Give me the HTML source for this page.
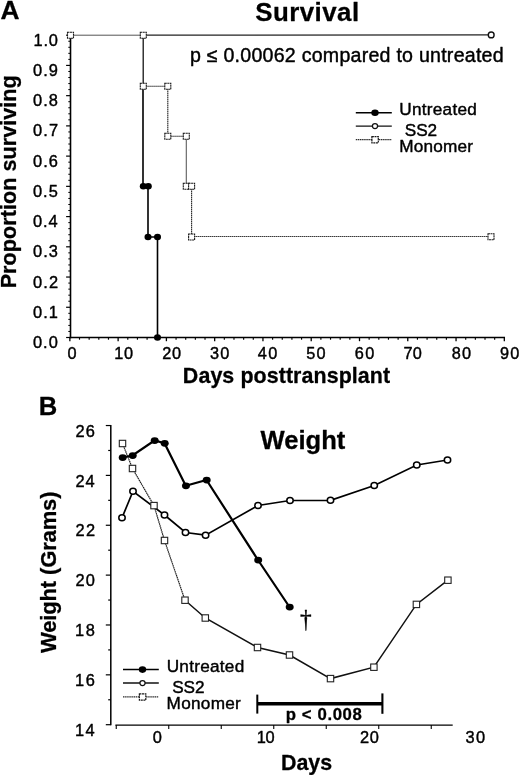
<!DOCTYPE html>
<html lang="en"><head><meta charset="utf-8"><title>Survival and Weight</title>
<style>
html,body{margin:0;padding:0;background:#fff;}
body{width:520px;height:775px;overflow:hidden;font-family:"Liberation Sans",Arial,Helvetica,sans-serif;}
svg{display:block;will-change:transform;}
svg text{fill:#000;font-family:"Liberation Sans",Arial,Helvetica,sans-serif;white-space:pre;stroke:#000;stroke-width:.42px;stroke-linejoin:round;}
svg text[font-weight=bold]{stroke-width:.28px;}
</style></head><body>
<svg width="520" height="775" viewBox="0 0 520 775">
<rect width="520" height="775" fill="#fff"/>
<g id="chartA">
<line x1="70.5" y1="35.2" x2="143.3" y2="35.2" stroke="#555" stroke-width="1"/>
<polyline points="143.3,35.2 143.3,86.3 167.8,86.3 167.8,136.2 186.3,136.2 186.3,186.3 191.6,186.3 191.6,237.0" fill="none" stroke="#262626" stroke-width="1.1" stroke-dasharray="1.5 0.5"/>
<line x1="191.6" y1="236.5" x2="491" y2="236.5" stroke="#3a3a3a" stroke-width="1" stroke-dasharray="1.6 0.4"/>
<line x1="143.3" y1="35.2" x2="491" y2="34.900000000000006" stroke="#222" stroke-width="1.2"/>
<line x1="143.2" y1="35.2" x2="143.2" y2="86.3" stroke="#222" stroke-width="1.1"/>
<polyline points="143.0,86.3 143.0,186.3 148,186.3 148,237.0 157.5,237.0 157.5,337.5" fill="none" stroke="#000" stroke-width="1.6"/>
<line x1="70.5" y1="34.7" x2="70.5" y2="338.3" stroke="#000" stroke-width="1.6"/>
<line x1="69.7" y1="337.5" x2="505.02" y2="337.5" stroke="#000" stroke-width="1.6"/>
<line x1="66.1" y1="337.50" x2="70.5" y2="337.50" stroke="#000" stroke-width="1.2"/>
<line x1="68.3" y1="331.45" x2="70.5" y2="331.45" stroke="#000" stroke-width="1"/>
<line x1="68.3" y1="325.41" x2="70.5" y2="325.41" stroke="#000" stroke-width="1"/>
<line x1="68.3" y1="319.36" x2="70.5" y2="319.36" stroke="#000" stroke-width="1"/>
<line x1="68.3" y1="313.32" x2="70.5" y2="313.32" stroke="#000" stroke-width="1"/>
<line x1="66.1" y1="307.27" x2="70.5" y2="307.27" stroke="#000" stroke-width="1.2"/>
<line x1="68.3" y1="301.22" x2="70.5" y2="301.22" stroke="#000" stroke-width="1"/>
<line x1="68.3" y1="295.18" x2="70.5" y2="295.18" stroke="#000" stroke-width="1"/>
<line x1="68.3" y1="289.13" x2="70.5" y2="289.13" stroke="#000" stroke-width="1"/>
<line x1="68.3" y1="283.09" x2="70.5" y2="283.09" stroke="#000" stroke-width="1"/>
<line x1="66.1" y1="277.04" x2="70.5" y2="277.04" stroke="#000" stroke-width="1.2"/>
<line x1="68.3" y1="270.99" x2="70.5" y2="270.99" stroke="#000" stroke-width="1"/>
<line x1="68.3" y1="264.95" x2="70.5" y2="264.95" stroke="#000" stroke-width="1"/>
<line x1="68.3" y1="258.90" x2="70.5" y2="258.90" stroke="#000" stroke-width="1"/>
<line x1="68.3" y1="252.86" x2="70.5" y2="252.86" stroke="#000" stroke-width="1"/>
<line x1="66.1" y1="246.81" x2="70.5" y2="246.81" stroke="#000" stroke-width="1.2"/>
<line x1="68.3" y1="240.76" x2="70.5" y2="240.76" stroke="#000" stroke-width="1"/>
<line x1="68.3" y1="234.72" x2="70.5" y2="234.72" stroke="#000" stroke-width="1"/>
<line x1="68.3" y1="228.67" x2="70.5" y2="228.67" stroke="#000" stroke-width="1"/>
<line x1="68.3" y1="222.63" x2="70.5" y2="222.63" stroke="#000" stroke-width="1"/>
<line x1="66.1" y1="216.58" x2="70.5" y2="216.58" stroke="#000" stroke-width="1.2"/>
<line x1="68.3" y1="210.53" x2="70.5" y2="210.53" stroke="#000" stroke-width="1"/>
<line x1="68.3" y1="204.49" x2="70.5" y2="204.49" stroke="#000" stroke-width="1"/>
<line x1="68.3" y1="198.44" x2="70.5" y2="198.44" stroke="#000" stroke-width="1"/>
<line x1="68.3" y1="192.40" x2="70.5" y2="192.40" stroke="#000" stroke-width="1"/>
<line x1="66.1" y1="186.35" x2="70.5" y2="186.35" stroke="#000" stroke-width="1.2"/>
<line x1="68.3" y1="180.30" x2="70.5" y2="180.30" stroke="#000" stroke-width="1"/>
<line x1="68.3" y1="174.26" x2="70.5" y2="174.26" stroke="#000" stroke-width="1"/>
<line x1="68.3" y1="168.21" x2="70.5" y2="168.21" stroke="#000" stroke-width="1"/>
<line x1="68.3" y1="162.17" x2="70.5" y2="162.17" stroke="#000" stroke-width="1"/>
<line x1="66.1" y1="156.12" x2="70.5" y2="156.12" stroke="#000" stroke-width="1.2"/>
<line x1="68.3" y1="150.07" x2="70.5" y2="150.07" stroke="#000" stroke-width="1"/>
<line x1="68.3" y1="144.03" x2="70.5" y2="144.03" stroke="#000" stroke-width="1"/>
<line x1="68.3" y1="137.98" x2="70.5" y2="137.98" stroke="#000" stroke-width="1"/>
<line x1="68.3" y1="131.94" x2="70.5" y2="131.94" stroke="#000" stroke-width="1"/>
<line x1="66.1" y1="125.89" x2="70.5" y2="125.89" stroke="#000" stroke-width="1.2"/>
<line x1="68.3" y1="119.84" x2="70.5" y2="119.84" stroke="#000" stroke-width="1"/>
<line x1="68.3" y1="113.80" x2="70.5" y2="113.80" stroke="#000" stroke-width="1"/>
<line x1="68.3" y1="107.75" x2="70.5" y2="107.75" stroke="#000" stroke-width="1"/>
<line x1="68.3" y1="101.71" x2="70.5" y2="101.71" stroke="#000" stroke-width="1"/>
<line x1="66.1" y1="95.66" x2="70.5" y2="95.66" stroke="#000" stroke-width="1.2"/>
<line x1="68.3" y1="89.61" x2="70.5" y2="89.61" stroke="#000" stroke-width="1"/>
<line x1="68.3" y1="83.57" x2="70.5" y2="83.57" stroke="#000" stroke-width="1"/>
<line x1="68.3" y1="77.52" x2="70.5" y2="77.52" stroke="#000" stroke-width="1"/>
<line x1="68.3" y1="71.48" x2="70.5" y2="71.48" stroke="#000" stroke-width="1"/>
<line x1="66.1" y1="65.43" x2="70.5" y2="65.43" stroke="#000" stroke-width="1.2"/>
<line x1="68.3" y1="59.38" x2="70.5" y2="59.38" stroke="#000" stroke-width="1"/>
<line x1="68.3" y1="53.34" x2="70.5" y2="53.34" stroke="#000" stroke-width="1"/>
<line x1="68.3" y1="47.29" x2="70.5" y2="47.29" stroke="#000" stroke-width="1"/>
<line x1="68.3" y1="41.25" x2="70.5" y2="41.25" stroke="#000" stroke-width="1"/>
<line x1="66.1" y1="35.20" x2="70.5" y2="35.20" stroke="#000" stroke-width="1.2"/>
<line x1="69.85" y1="337.5" x2="69.85" y2="341.2" stroke="#000" stroke-width="1.3"/>
<line x1="79.50" y1="337.5" x2="79.50" y2="339.7" stroke="#000" stroke-width="1.15"/>
<line x1="89.16" y1="337.5" x2="89.16" y2="339.7" stroke="#000" stroke-width="1.15"/>
<line x1="98.81" y1="337.5" x2="98.81" y2="339.7" stroke="#000" stroke-width="1.15"/>
<line x1="108.47" y1="337.5" x2="108.47" y2="339.7" stroke="#000" stroke-width="1.15"/>
<line x1="118.12" y1="337.5" x2="118.12" y2="341.2" stroke="#000" stroke-width="1.3"/>
<line x1="127.78" y1="337.5" x2="127.78" y2="339.7" stroke="#000" stroke-width="1.15"/>
<line x1="137.44" y1="337.5" x2="137.44" y2="339.7" stroke="#000" stroke-width="1.15"/>
<line x1="147.09" y1="337.5" x2="147.09" y2="339.7" stroke="#000" stroke-width="1.15"/>
<line x1="156.75" y1="337.5" x2="156.75" y2="339.7" stroke="#000" stroke-width="1.15"/>
<line x1="166.40" y1="337.5" x2="166.40" y2="341.2" stroke="#000" stroke-width="1.3"/>
<line x1="176.06" y1="337.5" x2="176.06" y2="339.7" stroke="#000" stroke-width="1.15"/>
<line x1="185.71" y1="337.5" x2="185.71" y2="339.7" stroke="#000" stroke-width="1.15"/>
<line x1="195.36" y1="337.5" x2="195.36" y2="339.7" stroke="#000" stroke-width="1.15"/>
<line x1="205.02" y1="337.5" x2="205.02" y2="339.7" stroke="#000" stroke-width="1.15"/>
<line x1="214.67" y1="337.5" x2="214.67" y2="341.2" stroke="#000" stroke-width="1.3"/>
<line x1="224.33" y1="337.5" x2="224.33" y2="339.7" stroke="#000" stroke-width="1.15"/>
<line x1="233.98" y1="337.5" x2="233.98" y2="339.7" stroke="#000" stroke-width="1.15"/>
<line x1="243.64" y1="337.5" x2="243.64" y2="339.7" stroke="#000" stroke-width="1.15"/>
<line x1="253.29" y1="337.5" x2="253.29" y2="339.7" stroke="#000" stroke-width="1.15"/>
<line x1="262.95" y1="337.5" x2="262.95" y2="341.2" stroke="#000" stroke-width="1.3"/>
<line x1="272.61" y1="337.5" x2="272.61" y2="339.7" stroke="#000" stroke-width="1.15"/>
<line x1="282.26" y1="337.5" x2="282.26" y2="339.7" stroke="#000" stroke-width="1.15"/>
<line x1="291.91" y1="337.5" x2="291.91" y2="339.7" stroke="#000" stroke-width="1.15"/>
<line x1="301.57" y1="337.5" x2="301.57" y2="339.7" stroke="#000" stroke-width="1.15"/>
<line x1="311.22" y1="337.5" x2="311.22" y2="341.2" stroke="#000" stroke-width="1.3"/>
<line x1="320.88" y1="337.5" x2="320.88" y2="339.7" stroke="#000" stroke-width="1.15"/>
<line x1="330.53" y1="337.5" x2="330.53" y2="339.7" stroke="#000" stroke-width="1.15"/>
<line x1="340.19" y1="337.5" x2="340.19" y2="339.7" stroke="#000" stroke-width="1.15"/>
<line x1="349.85" y1="337.5" x2="349.85" y2="339.7" stroke="#000" stroke-width="1.15"/>
<line x1="359.50" y1="337.5" x2="359.50" y2="341.2" stroke="#000" stroke-width="1.3"/>
<line x1="369.15" y1="337.5" x2="369.15" y2="339.7" stroke="#000" stroke-width="1.15"/>
<line x1="378.81" y1="337.5" x2="378.81" y2="339.7" stroke="#000" stroke-width="1.15"/>
<line x1="388.46" y1="337.5" x2="388.46" y2="339.7" stroke="#000" stroke-width="1.15"/>
<line x1="398.12" y1="337.5" x2="398.12" y2="339.7" stroke="#000" stroke-width="1.15"/>
<line x1="407.77" y1="337.5" x2="407.77" y2="341.2" stroke="#000" stroke-width="1.3"/>
<line x1="417.43" y1="337.5" x2="417.43" y2="339.7" stroke="#000" stroke-width="1.15"/>
<line x1="427.08" y1="337.5" x2="427.08" y2="339.7" stroke="#000" stroke-width="1.15"/>
<line x1="436.74" y1="337.5" x2="436.74" y2="339.7" stroke="#000" stroke-width="1.15"/>
<line x1="446.39" y1="337.5" x2="446.39" y2="339.7" stroke="#000" stroke-width="1.15"/>
<line x1="456.05" y1="337.5" x2="456.05" y2="341.2" stroke="#000" stroke-width="1.3"/>
<line x1="465.70" y1="337.5" x2="465.70" y2="339.7" stroke="#000" stroke-width="1.15"/>
<line x1="475.36" y1="337.5" x2="475.36" y2="339.7" stroke="#000" stroke-width="1.15"/>
<line x1="485.01" y1="337.5" x2="485.01" y2="339.7" stroke="#000" stroke-width="1.15"/>
<line x1="494.67" y1="337.5" x2="494.67" y2="339.7" stroke="#000" stroke-width="1.15"/>
<line x1="504.32" y1="337.5" x2="504.32" y2="341.2" stroke="#000" stroke-width="1.3"/>
<text transform="translate(32.94,348.10)" font-size="16.4" letter-spacing="1.038">0.0</text>
<text transform="translate(32.94,317.87)" font-size="16.4" letter-spacing="1.120">0.1</text>
<text transform="translate(32.94,287.64)" font-size="16.4" letter-spacing="1.140">0.2</text>
<text transform="translate(32.94,257.41)" font-size="16.4" letter-spacing="1.079">0.3</text>
<text transform="translate(32.94,227.18)" font-size="16.4" letter-spacing="0.956">0.4</text>
<text transform="translate(32.94,196.95)" font-size="16.4" letter-spacing="1.058">0.5</text>
<text transform="translate(32.94,166.72)" font-size="16.4" letter-spacing="1.079">0.6</text>
<text transform="translate(32.94,136.49)" font-size="16.4" letter-spacing="1.140">0.7</text>
<text transform="translate(32.94,106.26)" font-size="16.4" letter-spacing="1.079">0.8</text>
<text transform="translate(32.94,76.03)" font-size="16.4" letter-spacing="1.099">0.9</text>
<text transform="translate(33.57,45.80)" font-size="16.4" letter-spacing="0.725">1.0</text>
<text transform="translate(67.55,359.20)" font-size="16.3" letter-spacing="0.000">0</text>
<text transform="translate(114.28,359.20)" font-size="16.3" letter-spacing="0.741">10</text>
<text transform="translate(162.19,359.20)" font-size="16.3" letter-spacing="0.833">20</text>
<text transform="translate(209.89,359.20)" font-size="16.3" letter-spacing="1.380">30</text>
<text transform="translate(257.63,359.20)" font-size="16.3" letter-spacing="1.635">40</text>
<text transform="translate(306.35,359.20)" font-size="16.3" letter-spacing="1.170">50</text>
<text transform="translate(354.69,359.20)" font-size="16.3" letter-spacing="1.583">60</text>
<text transform="translate(403.39,359.20)" font-size="16.3" letter-spacing="0.374">70</text>
<text transform="translate(451.81,359.20)" font-size="16.3" letter-spacing="1.211">80</text>
<text transform="translate(499.98,359.20)" font-size="16.3" letter-spacing="1.293">90</text>
<rect x="67.5" y="32.2" width="6" height="6" fill="#fff" stroke="#1a1a1a" stroke-width="1.1" stroke-dasharray="2 0.5"/>
<rect x="140.3" y="32.2" width="6" height="6" fill="#fff" stroke="#1a1a1a" stroke-width="1.1" stroke-dasharray="2 0.5"/>
<rect x="140.3" y="83.3" width="6" height="6" fill="#fff" stroke="#1a1a1a" stroke-width="1.1" stroke-dasharray="2 0.5"/>
<rect x="164.8" y="83.3" width="6" height="6" fill="#fff" stroke="#1a1a1a" stroke-width="1.1" stroke-dasharray="2 0.5"/>
<rect x="164.8" y="133.2" width="6" height="6" fill="#fff" stroke="#1a1a1a" stroke-width="1.1" stroke-dasharray="2 0.5"/>
<rect x="183.3" y="133.2" width="6" height="6" fill="#fff" stroke="#1a1a1a" stroke-width="1.1" stroke-dasharray="2 0.5"/>
<rect x="183.3" y="183.3" width="6" height="6" fill="#fff" stroke="#1a1a1a" stroke-width="1.1" stroke-dasharray="2 0.5"/>
<rect x="188.6" y="183.3" width="6" height="6" fill="#fff" stroke="#1a1a1a" stroke-width="1.1" stroke-dasharray="2 0.5"/>
<rect x="188.6" y="234.0" width="6" height="6" fill="#fff" stroke="#1a1a1a" stroke-width="1.1" stroke-dasharray="2 0.5"/>
<rect x="488.0" y="233.7" width="6" height="6" fill="#fff" stroke="#1a1a1a" stroke-width="1.1" stroke-dasharray="2 0.5"/>
<circle cx="491.2" cy="34.900000000000006" r="2.9" fill="#fff" stroke="#111" stroke-width="1.4"/>
<ellipse cx="143.3" cy="186.3" rx="3.5" ry="3.3" fill="#000"/>
<ellipse cx="148.3" cy="186.3" rx="3.5" ry="3.3" fill="#000"/>
<ellipse cx="148" cy="237.0" rx="3.5" ry="3.3" fill="#000"/>
<ellipse cx="157.5" cy="237.0" rx="3.5" ry="3.3" fill="#000"/>
<ellipse cx="157.5" cy="337.5" rx="3.5" ry="3.3" fill="#000"/>
<line x1="355.8" y1="112.8" x2="391.8" y2="112.8" stroke="#000" stroke-width="1.5"/>
<ellipse cx="375" cy="112.8" rx="3.7" ry="3.3" fill="#000"/>
<line x1="355.8" y1="126.1" x2="391.8" y2="126.1" stroke="#111" stroke-width="1.3"/>
<ellipse cx="375" cy="126.1" rx="2.6" ry="2.5" fill="#fff" stroke="#111" stroke-width="1.25"/>
<line x1="355.8" y1="139.6" x2="391.8" y2="139.6" stroke="#2a2a2a" stroke-width="1.1" stroke-dasharray="1.5 0.6"/>
<rect x="371.9" y="136.6" width="6.4" height="6.2" fill="#fff" stroke="#1a1a1a" stroke-width="1.2" stroke-dasharray="2 0.6"/>
<text transform="translate(399.37,114.80)" font-size="17.2" letter-spacing="0.238">Untreated</text>
<text transform="translate(404.83,135.90)" font-size="17.2" letter-spacing="-0.137">SS2</text>
<text transform="translate(399.28,152.30)" font-size="17.2" letter-spacing="0.192">Monomer</text>
<text transform="translate(0.59,19.40)" font-size="26.3" font-weight="bold" letter-spacing="0.000">A</text>
<text transform="translate(255.22,20.60)" font-size="25.9" font-weight="bold" letter-spacing="0.448">Survival</text>
<text transform="translate(189.93,61.70)" font-size="19.6" letter-spacing="0.242">p ≤ 0.00062 compared to untreated</text>
<text transform="translate(182.86,382.50)" font-size="21.4" font-weight="bold" letter-spacing="0.089">Days posttransplant</text>
<text transform="translate(16.30,288.36) rotate(-90)" font-size="21.6" font-weight="bold" letter-spacing="0.041">Proportion surviving</text>
</g>
<g id="chartB">
<line x1="110.8" y1="425.0" x2="110.8" y2="725.3000000000001" stroke="#000" stroke-width="1.5"/>
<line x1="105.8" y1="724.70" x2="110.8" y2="724.70" stroke="#000" stroke-width="1.2"/>
<line x1="108.2" y1="699.77" x2="110.8" y2="699.77" stroke="#000" stroke-width="1.2"/>
<line x1="105.8" y1="674.84" x2="110.8" y2="674.84" stroke="#000" stroke-width="1.2"/>
<line x1="108.2" y1="649.91" x2="110.8" y2="649.91" stroke="#000" stroke-width="1.2"/>
<line x1="105.8" y1="624.98" x2="110.8" y2="624.98" stroke="#000" stroke-width="1.2"/>
<line x1="108.2" y1="600.05" x2="110.8" y2="600.05" stroke="#000" stroke-width="1.2"/>
<line x1="105.8" y1="575.12" x2="110.8" y2="575.12" stroke="#000" stroke-width="1.2"/>
<line x1="108.2" y1="550.19" x2="110.8" y2="550.19" stroke="#000" stroke-width="1.2"/>
<line x1="105.8" y1="525.26" x2="110.8" y2="525.26" stroke="#000" stroke-width="1.2"/>
<line x1="108.2" y1="500.33" x2="110.8" y2="500.33" stroke="#000" stroke-width="1.2"/>
<line x1="105.8" y1="475.40" x2="110.8" y2="475.40" stroke="#000" stroke-width="1.2"/>
<line x1="108.2" y1="450.47" x2="110.8" y2="450.47" stroke="#000" stroke-width="1.2"/>
<line x1="105.8" y1="425.54" x2="110.8" y2="425.54" stroke="#000" stroke-width="1.2"/>
<line x1="115.4" y1="725.1" x2="452.7" y2="725.1" stroke="#000" stroke-width="1.3"/>
<line x1="116.25" y1="725.1" x2="116.25" y2="729.0" stroke="#000" stroke-width="1.1"/>
<line x1="168.75" y1="725.1" x2="168.75" y2="729.0" stroke="#000" stroke-width="1.1"/>
<line x1="221.25" y1="725.1" x2="221.25" y2="729.0" stroke="#000" stroke-width="1.1"/>
<line x1="273.75" y1="725.1" x2="273.75" y2="729.0" stroke="#000" stroke-width="1.1"/>
<line x1="326.25" y1="725.1" x2="326.25" y2="729.0" stroke="#000" stroke-width="1.1"/>
<line x1="378.75" y1="725.1" x2="378.75" y2="729.0" stroke="#000" stroke-width="1.1"/>
<line x1="431.25" y1="725.1" x2="431.25" y2="729.0" stroke="#000" stroke-width="1.1"/>
<text transform="translate(75.07,735.90)" font-size="16.4" letter-spacing="1.377">14</text>
<text transform="translate(75.07,686.04)" font-size="16.4" letter-spacing="1.623">16</text>
<text transform="translate(75.07,636.18)" font-size="16.4" letter-spacing="1.623">18</text>
<text transform="translate(75.48,586.32)" font-size="16.4" letter-spacing="1.131">20</text>
<text transform="translate(75.48,536.46)" font-size="16.4" letter-spacing="1.336">22</text>
<text transform="translate(75.48,486.60)" font-size="16.4" letter-spacing="0.967">24</text>
<text transform="translate(75.48,436.74)" font-size="16.4" letter-spacing="1.213">26</text>
<text transform="translate(152.74,742.70)" font-size="16.4" letter-spacing="0.000">0</text>
<text transform="translate(256.77,742.70)" font-size="16.4" letter-spacing="-0.359">10</text>
<text transform="translate(359.98,742.70)" font-size="16.4" letter-spacing="0.731">20</text>
<text transform="translate(465.38,742.70)" font-size="16.4" letter-spacing="1.426">30</text>
<polyline points="122.5,443.5 132.5,468.5 154,505.6 164.5,540.5 185,600.2" fill="none" stroke="#222" stroke-width="1.2" stroke-dasharray="1.6 0.5"/>
<polyline points="185,600.2 205.3,618 257.5,647.5 289.5,655 330.5,678.6 373.9,667.2 416.4,604.4 447.9,580.2" fill="none" stroke="#111" stroke-width="1.5"/>
<polyline points="122,517.8 133,491.25 164.5,515 185.5,532.5 205.6,535.2 258,505.5 290,500.5 330.5,500.3 374.25,485.5 416.75,465 447.5,460" fill="none" stroke="#000" stroke-width="1.7"/>
<polyline points="122.5,457.5 132.5,455.5 154.5,440.5 164.5,443.25 185.75,485.75 206.5,480 258,560 289.5,607" fill="none" stroke="#000" stroke-width="2.2"/>
<rect x="119.3" y="440.3" width="6.4" height="6.4" fill="#fff" stroke="#222" stroke-width="1.1"/>
<rect x="129.3" y="465.3" width="6.4" height="6.4" fill="#fff" stroke="#222" stroke-width="1.1"/>
<rect x="150.8" y="502.4" width="6.4" height="6.4" fill="#fff" stroke="#222" stroke-width="1.1"/>
<rect x="161.3" y="537.3" width="6.4" height="6.4" fill="#fff" stroke="#222" stroke-width="1.1"/>
<rect x="181.8" y="597.0" width="6.4" height="6.4" fill="#fff" stroke="#222" stroke-width="1.1"/>
<rect x="202.1" y="614.8" width="6.4" height="6.4" fill="#fff" stroke="#222" stroke-width="1.1"/>
<rect x="254.3" y="644.3" width="6.4" height="6.4" fill="#fff" stroke="#222" stroke-width="1.1"/>
<rect x="286.3" y="651.8" width="6.4" height="6.4" fill="#fff" stroke="#222" stroke-width="1.1"/>
<rect x="327.3" y="675.4" width="6.4" height="6.4" fill="#fff" stroke="#222" stroke-width="1.1"/>
<rect x="370.7" y="664.0" width="6.4" height="6.4" fill="#fff" stroke="#222" stroke-width="1.1"/>
<rect x="413.2" y="601.2" width="6.4" height="6.4" fill="#fff" stroke="#222" stroke-width="1.1"/>
<rect x="444.7" y="577.0" width="6.4" height="6.4" fill="#fff" stroke="#222" stroke-width="1.1"/>
<ellipse cx="122" cy="517.8" rx="3.2" ry="3" fill="#fff" stroke="#000" stroke-width="1.5"/>
<ellipse cx="133" cy="491.25" rx="3.2" ry="3" fill="#fff" stroke="#000" stroke-width="1.5"/>
<ellipse cx="164.5" cy="515" rx="3.2" ry="3" fill="#fff" stroke="#000" stroke-width="1.5"/>
<ellipse cx="185.5" cy="532.5" rx="3.2" ry="3" fill="#fff" stroke="#000" stroke-width="1.5"/>
<ellipse cx="205.6" cy="535.2" rx="3.2" ry="3" fill="#fff" stroke="#000" stroke-width="1.5"/>
<ellipse cx="258" cy="505.5" rx="3.2" ry="3" fill="#fff" stroke="#000" stroke-width="1.5"/>
<ellipse cx="290" cy="500.5" rx="3.2" ry="3" fill="#fff" stroke="#000" stroke-width="1.5"/>
<ellipse cx="330.5" cy="500.3" rx="3.2" ry="3" fill="#fff" stroke="#000" stroke-width="1.5"/>
<ellipse cx="374.25" cy="485.5" rx="3.2" ry="3" fill="#fff" stroke="#000" stroke-width="1.5"/>
<ellipse cx="416.75" cy="465" rx="3.2" ry="3" fill="#fff" stroke="#000" stroke-width="1.5"/>
<ellipse cx="447.5" cy="460" rx="3.2" ry="3" fill="#fff" stroke="#000" stroke-width="1.5"/>
<ellipse cx="122.7" cy="457.6" rx="4.0" ry="3.4" fill="#000"/>
<ellipse cx="132.7" cy="455.6" rx="4.0" ry="3.4" fill="#000"/>
<ellipse cx="154.7" cy="440.6" rx="4.0" ry="3.4" fill="#000"/>
<ellipse cx="164.7" cy="443.35" rx="4.0" ry="3.4" fill="#000"/>
<ellipse cx="185.95" cy="485.85" rx="4.0" ry="3.4" fill="#000"/>
<ellipse cx="206.7" cy="480.1" rx="4.0" ry="3.4" fill="#000"/>
<ellipse cx="258.2" cy="560.1" rx="4.0" ry="3.4" fill="#000"/>
<ellipse cx="289.7" cy="607.1" rx="4.0" ry="3.4" fill="#000"/>
<line x1="123" y1="669.6" x2="158.8" y2="669.6" stroke="#000" stroke-width="1.5"/>
<ellipse cx="142.5" cy="669.6" rx="3.7" ry="3.3" fill="#000"/>
<line x1="123" y1="683.0" x2="158.8" y2="683.0" stroke="#111" stroke-width="1.3"/>
<ellipse cx="142.5" cy="683.0" rx="2.6" ry="2.5" fill="#fff" stroke="#111" stroke-width="1.25"/>
<line x1="123" y1="696.9" x2="158.8" y2="696.9" stroke="#2a2a2a" stroke-width="1.1" stroke-dasharray="1.5 0.6"/>
<rect x="139.4" y="693.9" width="6.4" height="6.2" fill="#fff" stroke="#1a1a1a" stroke-width="1.2" stroke-dasharray="2 0.6"/>
<text transform="translate(166.67,672.00)" font-size="17.2" letter-spacing="0.262">Untreated</text>
<text transform="translate(172.23,692.50)" font-size="17.2" letter-spacing="-0.137">SS2</text>
<text transform="translate(166.58,708.80)" font-size="17.2" letter-spacing="0.275">Monomer</text>
<line x1="257" y1="703.8" x2="382.4" y2="703.8" stroke="#000" stroke-width="3.5"/>
<line x1="257.3" y1="694.6" x2="257.3" y2="713.6" stroke="#000" stroke-width="2"/>
<line x1="382.4" y1="693.4" x2="382.4" y2="713.8" stroke="#000" stroke-width="2.1"/>
<text transform="translate(285.71,719.60)" font-size="16.8" font-weight="bold" letter-spacing="0.594">p &lt; 0.008</text>
<text transform="translate(281.06,769.50)" font-size="21.4" font-weight="bold" letter-spacing="-0.032">Days</text>
<text transform="translate(260.44,448.90)" font-size="25.6" font-weight="bold" letter-spacing="0.004">Weight</text>
<text transform="translate(38.77,415.00)" font-size="25.6" font-weight="bold" letter-spacing="0.000">B</text>
<text transform="translate(300.1,626.8) scale(0.9,1)" font-size="26" style="font-family:'Liberation Serif','DejaVu Serif',serif">†</text>
<text transform="translate(56.30,653.05) rotate(-90)" font-size="22.0" font-weight="bold" letter-spacing="-0.142">Weight (Grams)</text>
</g>
</svg>
</body></html>
